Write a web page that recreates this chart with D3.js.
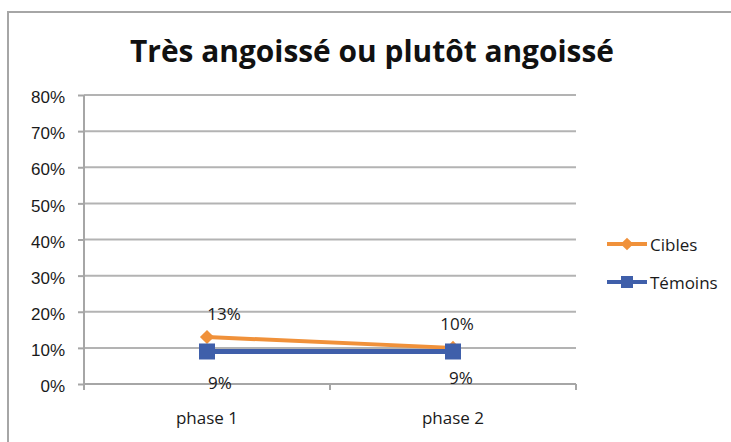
<!DOCTYPE html>
<html lang="fr">
<head>
<meta charset="UTF-8">
<title>Très angoissé ou plutôt angoissé</title>
<script src="https://cdn.jsdelivr.net/npm/d3@7"></script>
<style>
  body { margin: 0; background: #fff; }
  svg { display: block; font-family: "Open Sans", "Noto Sans", sans-serif; }
  .grid line { stroke: #b3b3b3; stroke-width: 2; }
  .axis path, .axis line { stroke: #a6a6a6; stroke-width: 2; }
  .axis text { fill: #1a1a1a; font-size: 17px; }
  .lbl { fill: #1a1a1a; font-size: 17px; }
</style>
</head>
<body>
<svg></svg>
<script>
const categories = ['phase 1', 'phase 2'];
const cibles = [0.13, 0.10];
const temoins = [0.09, 0.09];
const yTicks = [0, 0.1, 0.2, 0.3, 0.4, 0.5, 0.6, 0.7, 0.8];
const title = 'Très angoissé ou plutôt angoissé';

const W = 731, H = 442;
const svg = d3.select('svg').attr('width', W).attr('height', H);

// cadre du graphique (coupé à droite et en bas)
svg.append('rect')
  .attr('x', 8).attr('y', 12)
  .attr('width', 760).attr('height', 460)
  .attr('fill', '#fff')
  .attr('stroke', '#a6a6a6').attr('stroke-width', 2);

svg.append('text')
  .attr('x', 372).attr('y', 62)
  .attr('text-anchor', 'middle')
  .attr('font-size', 30).attr('font-weight', 'bold').attr('fill', '#111')
  .attr('textLength', 484).attr('lengthAdjust', 'spacingAndGlyphs')
  .text(title);

const pL = 84, pR = 576, pT = 95, pB = 384;
const y = d3.scaleLinear().domain([0, 0.8]).range([pB, pT]);
const x = d3.scaleBand().domain(categories).range([pL, pR]);
const cx = c => x(c) + x.bandwidth() / 2;

svg.append('g').attr('class', 'grid')
  .selectAll('line').data(yTicks).join('line')
  .attr('x1', pL).attr('x2', pR)
  .attr('y1', d => y(d)).attr('y2', d => y(d));

svg.append('g').attr('class', 'axis')
  .attr('transform', `translate(${pL},0)`)
  .call(d3.axisLeft(y).tickValues(yTicks).tickSize(6).tickPadding(13)
    .tickFormat(d3.format('.0%')))
  .call(g => g.select('.domain').attr('d', `M0,${pT}V${pB}`))
  .call(g => g.selectAll('.tick text').attr('dy', '0.45em'));

// axe des x: graduations entre les catégories
const xAxis = svg.append('g').attr('class', 'axis');
xAxis.append('line').attr('x1', pL).attr('x2', pR).attr('y1', pB).attr('y2', pB);
xAxis.selectAll('line.tk').data([...categories.map(c => x(c)), pR]).join('line')
  .attr('class', 'tk')
  .attr('x1', d => d).attr('x2', d => d)
  .attr('y1', pB).attr('y2', pB + 6);
xAxis.selectAll('text').data(categories).join('text')
  .attr('x', d => cx(d)).attr('y', 417)
  .attr('text-anchor', 'middle').attr('dominant-baseline', 'central')
  .text(d => d);

const line = d3.line().x((d, i) => cx(categories[i])).y(d => y(d));

// Cibles
svg.append('path').datum(cibles)
  .attr('d', line).attr('fill', 'none')
  .attr('stroke', '#f0913a').attr('stroke-width', 4);
svg.selectAll('.dia').data(cibles).join('rect')
  .attr('class', 'dia')
  .attr('x', -5).attr('y', -5).attr('width', 10).attr('height', 10)
  .attr('transform', (d, i) => `translate(${cx(categories[i])},${y(d)}) rotate(45)`)
  .attr('fill', '#f0913a');

// Témoins
svg.append('path').datum(temoins)
  .attr('d', line).attr('fill', 'none')
  .attr('stroke', '#3f5faa').attr('stroke-width', 5);
svg.selectAll('.sq').data(temoins).join('rect')
  .attr('class', 'sq')
  .attr('x', (d, i) => cx(categories[i]) - 8).attr('y', d => y(d) - 8)
  .attr('width', 16).attr('height', 16)
  .attr('fill', '#3f5faa');

// étiquettes de données
const fmt = d3.format('.0%');
svg.selectAll('.lc').data(cibles).join('text')
  .attr('class', 'lbl lc')
  .attr('x', (d, i) => cx(categories[i]) + [17, 4][i])
  .attr('y', d => y(d) - 24)
  .attr('text-anchor', 'middle').attr('dominant-baseline', 'central')
  .text(fmt);
svg.selectAll('.lt').data(temoins).join('text')
  .attr('class', 'lbl lt')
  .attr('x', (d, i) => cx(categories[i]) + [13, 8][i])
  .attr('y', (d, i) => y(d) + [31, 26][i])
  .attr('text-anchor', 'middle').attr('dominant-baseline', 'central')
  .text(fmt);

// légende
const legend = [
  { name: 'Cibles', color: '#f0913a', y: 244, side: 9, rot: 45 },
  { name: 'Témoins', color: '#3f5faa', y: 282, side: 12, rot: 0 }
];
const lg = svg.selectAll('.leg').data(legend).join('g').attr('class', 'leg');
lg.append('line')
  .attr('x1', 607).attr('x2', 647)
  .attr('y1', d => d.y).attr('y2', d => d.y)
  .attr('stroke', d => d.color).attr('stroke-width', 4);
lg.append('rect')
  .attr('x', d => -d.side / 2).attr('y', d => -d.side / 2)
  .attr('width', d => d.side).attr('height', d => d.side)
  .attr('transform', d => `translate(627,${d.y}) rotate(${d.rot})`)
  .attr('fill', d => d.color);
lg.append('text')
  .attr('class', 'lbl')
  .attr('x', 650).attr('y', d => d.y)
  .attr('dominant-baseline', 'central')
  .text(d => d.name);
</script>
</body>
</html>
